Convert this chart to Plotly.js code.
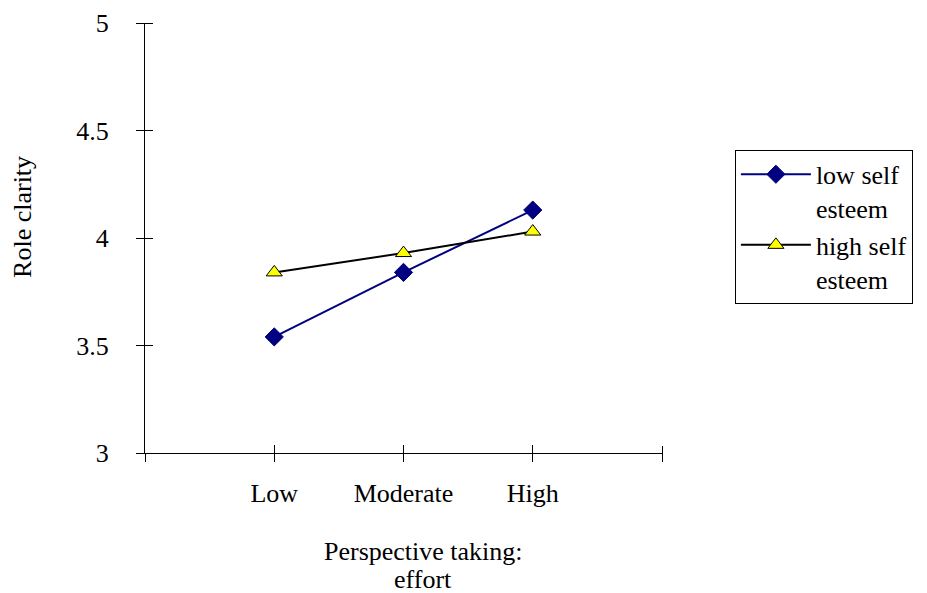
<!DOCTYPE html>
<html>
<head>
<meta charset="utf-8">
<script src="https://cdn.plot.ly/plotly-3.0.1.min.js"></script>
<style>html,body{margin:0;padding:0;background:#fff;}#chart{width:927px;height:593px;}</style>
</head>
<body>
<div id="chart"></div>
<script>
var categories = ["Low", "Moderate", "High"];
var lowSelfEsteem = [3.54, 3.84, 4.13];
var highSelfEsteem = [3.84, 3.93, 4.03];
var yTickValues = [3, 3.5, 4, 4.5, 5];
var yTickLabels = ["3", "3.5", "4", "4.5", "5"];
var seriesNames = ["low self<br>esteem", "high self<br>esteem"];
var xTitleLines = ["Perspective taking:", "effort"];
var yTitle = "Role clarity";

var xIdx = categories.map(function (c, i) { return i; });
var xMin = -1, xMax = categories.length;
var yMin = yTickValues[0], yMax = yTickValues[yTickValues.length - 1];
var xTickVals = [xMin].concat(xIdx).concat([xMax]);
var xTickText = [""].concat(categories).concat([""]);

var FONT = "Liberation Serif, Times New Roman, serif";
var FS = 26;
var PLOT_W = 517, PLOT_H = 430, TICK = 8;

var hiddenBase = {type: "scatter", mode: "markers", marker: {opacity: 0}, showlegend: false, hoverinfo: "skip"};

var traces = [
  Object.assign({x: xIdx, y: lowSelfEsteem, xaxis: "x2", yaxis: "y2"}, hiddenBase),
  Object.assign({x: xIdx, y: lowSelfEsteem, xaxis: "x3", yaxis: "y3"}, hiddenBase),
  {
    x: xIdx, y: lowSelfEsteem, name: seriesNames[0], type: "scatter", mode: "lines+markers",
    line: {color: "#000080", width: 2},
    marker: {symbol: "diamond", size: 14, color: "#000080", line: {color: "#000080", width: 1}}
  },
  {
    x: xIdx, y: highSelfEsteem, name: seriesNames[1], type: "scatter", mode: "lines+markers",
    line: {color: "#000000", width: 2},
    marker: {symbol: "triangle-up", size: 14, color: "#FFFF00", line: {color: "#000000", width: 1}}
  }
];

var tickStyle = {tickcolor: "#000", tickwidth: 1, ticklen: TICK, showline: false, showgrid: false,
                 zeroline: false, showticklabels: false, fixedrange: true, tickmode: "array"};

var layout = {
  width: 927, height: 593,
  margin: {l: 145, r: 265, t: 23, b: 140},
  paper_bgcolor: "#ffffff", plot_bgcolor: "#ffffff",
  font: {family: FONT, size: FS, color: "#000"},
  showlegend: true,
  legend: {
    x: 1.141, y: 0.705, xanchor: "left", yanchor: "top",
    bordercolor: "#000", borderwidth: 1, bgcolor: "#fff",
    font: {family: FONT, size: FS, color: "#000"},
    tracegroupgap: 8, itemwidth: 70, valign: "top"
  },
  xaxis: {
    range: [xMin, xMax], tickmode: "array", tickvals: xTickVals, ticktext: xTickText,
    showline: true, linecolor: "#000", linewidth: 1, showgrid: false, zeroline: false,
    ticks: "outside", ticklen: TICK, tickcolor: "#000", tickwidth: 1,
    ticklabelstandoff: 9, fixedrange: true
  },
  yaxis: {
    range: [yMin, yMax], tickmode: "array", tickvals: yTickValues, ticktext: yTickLabels,
    showline: true, linecolor: "#000", linewidth: 1, showgrid: false, zeroline: false,
    ticks: "outside", ticklen: TICK, tickcolor: "#000", tickwidth: 1,
    ticklabelstandoff: 22, fixedrange: true
  },
  xaxis2: Object.assign({overlaying: "x", anchor: "y2", side: "bottom", range: [xMin, xMax],
    tickvals: xTickVals, ticks: "inside"}, tickStyle),
  yaxis2: Object.assign({overlaying: "y", anchor: "x2", side: "left", range: [yMin, yMax],
    tickvals: yTickValues, ticks: "inside"}, tickStyle),
  xaxis3: Object.assign({overlaying: "x", anchor: "free", position: TICK / PLOT_H, side: "bottom",
    range: [xMin, xMax], tickvals: [xMax], ticks: "outside"}, tickStyle),
  yaxis3: Object.assign({overlaying: "y", anchor: "free", position: TICK / PLOT_W, side: "left",
    range: [yMin, yMax], tickvals: [yMax], ticks: "outside"}, tickStyle),
  annotations: [
    {text: yTitle, xref: "paper", yref: "paper", x: -0.236, y: 0.549,
     xanchor: "center", yanchor: "middle", textangle: -90, showarrow: false,
     font: {family: FONT, size: FS, color: "#000"}},
    {text: xTitleLines[0], xref: "paper", yref: "paper", x: 0.538, y: -0.2302,
     xanchor: "center", yanchor: "middle", showarrow: false,
     font: {family: FONT, size: FS, color: "#000"}},
    {text: xTitleLines[1], xref: "paper", yref: "paper", x: 0.538, y: -0.2953,
     xanchor: "center", yanchor: "middle", showarrow: false,
     font: {family: FONT, size: FS, color: "#000"}}
  ]
};

Plotly.newPlot("chart", traces, layout, {displayModeBar: false, staticPlot: true});
</script>
</body>
</html>
